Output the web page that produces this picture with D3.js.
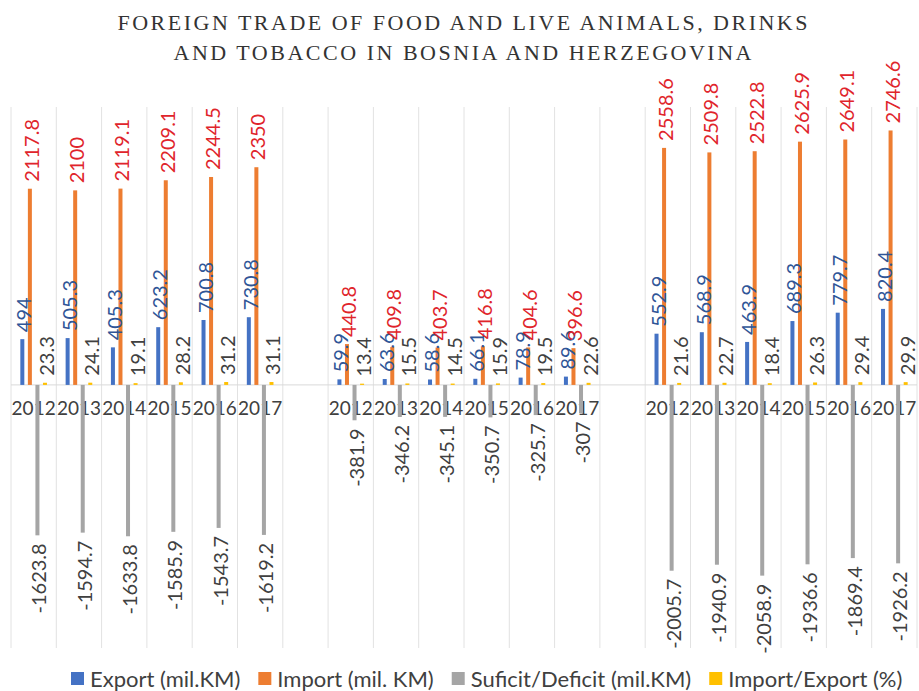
<!DOCTYPE html>
<html>
<head>
<meta charset="utf-8">
<script src="https://cdn.jsdelivr.net/npm/d3@7"></script>
<style>
  body { margin: 0; background: #fff; }
</style>
</head>
<body>
<div id="chart"></div>
<script>
// Data
const groups = ['A', 'B', 'C']
const years = ['2012', '2013', '2014', '2015', '2016', '2017']

const exportVals = [
  494, 505.3, 405.3, 623.2, 700.8, 730.8,
  59.9, 63.6, 58.6, 66.1, 78.9, 89.6,
  552.9, 568.9, 463.9, 689.3, 779.7, 820.4
]
const importVals = [
  2117.8, 2100, 2119.1, 2209.1, 2244.5, 2350,
  440.8, 409.8, 403.7, 416.8, 404.6, 396.6,
  2558.6, 2509.8, 2522.8, 2625.9, 2649.1, 2746.6
]
const balanceVals = [
  -1623.8, -1594.7, -1633.8, -1585.9, -1543.7, -1619.2,
  -381.9, -346.2, -345.1, -350.7, -325.7, -307,
  -2005.7, -1940.9, -2058.9, -1936.6, -1869.4, -1926.2
]
const ratioVals = [
  23.3, 24.1, 19.1, 28.2, 31.2, 31.1,
  13.4, 15.5, 14.5, 15.9, 19.5, 22.6,
  21.6, 22.7, 18.4, 26.3, 29.4, 29.9
]

const seriesNames = [
  'Export (mil.KM)',
  'Import (mil. KM)',
  'Suficit/Deficit (mil.KM)',
  'Import/Export (%)'
]
const seriesColors = ['#4472c4', '#ed7d31', '#a5a5a5', '#ffc000']
const labelColors = ['#2f5597', '#e0242b', '#404040', '#404040']

const titleLines = [
  'FOREIGN TRADE OF FOOD AND LIVE ANIMALS, DRINKS',
  'AND TOBACCO IN BOSNIA AND HERZEGOVINA'
]

function draw() {
  // Dimensions
  const dimensions = {
    width: 919,
    height: 691,
    plotLeft: 11,
    plotRight: 917,
    plotTop: 107,
    plotBottom: 648,
  }

  // Categories: 3 groups of 6 years with an empty slot between groups
  const categories = []
  const rows = []
  groups.forEach((g, gi) => {
    if (gi > 0) categories.push({ key: 'gap' + gi, label: '' })
    years.forEach((yr, yi) => {
      const idx = gi * years.length + yi
      const key = g + yr
      categories.push({ key, label: yr })
      rows.push({
        key,
        values: [exportVals[idx], importVals[idx], balanceVals[idx], ratioVals[idx]]
      })
    })
  })

  const svg = d3.select('#chart')
    .append('svg')
    .attr('width', dimensions.width)
    .attr('height', dimensions.height)
    .style('font-family', 'Lato, sans-serif')

  // Scales
  const xScale = d3.scaleBand()
    .domain(categories.map(c => c.key))
    .range([dimensions.plotLeft, dimensions.plotRight])

  const subScale = d3.scaleBand()
    .domain(d3.range(seriesNames.length))
    .range([0, xScale.bandwidth()])
    .paddingInner(0.47)
    .paddingOuter(1.235)

  const yScale = d3.scaleLinear()
    .domain([-2840, 3000])
    .range([dimensions.plotBottom, dimensions.plotTop])

  // Gridlines
  const edges = categories.map(c => xScale(c.key)).concat([dimensions.plotRight])
  svg.append('g')
    .selectAll('line')
    .data(edges)
    .join('line')
    .attr('x1', d => d)
    .attr('x2', d => d)
    .attr('y1', dimensions.plotTop)
    .attr('y2', dimensions.plotBottom)
    .attr('stroke', '#e2e2e2')
    .attr('stroke-width', 1)

  svg.append('line')
    .attr('x1', dimensions.plotLeft)
    .attr('x2', dimensions.plotRight)
    .attr('y1', yScale(0))
    .attr('y2', yScale(0))
    .attr('stroke', '#d9d9d9')

  // Year labels
  const xAxis = d3.axisBottom(xScale)
    .tickSize(0)
    .tickFormat(k => categories.find(c => c.key === k).label)

  const axisG = svg.append('g')
    .attr('transform', `translate(0, ${yScale(0)})`)
    .call(xAxis)
  axisG.select('.domain').remove()
  axisG.selectAll('text')
    .attr('y', 30)
    .attr('dy', 0)
    .style('font-family', 'Lato, sans-serif')
    .style('font-size', '19px')
    .attr('fill', '#404040')

  // Bars
  const cats = svg.append('g')
    .selectAll('g')
    .data(rows)
    .join('g')
    .attr('transform', d => `translate(${xScale(d.key)}, 0)`)

  cats.selectAll('rect')
    .data(d => d.values.map((v, i) => ({ v, i })))
    .join('rect')
    .attr('x', d => subScale(d.i))
    .attr('width', subScale.bandwidth())
    .attr('y', d => yScale(Math.max(0, d.v)))
    .attr('height', d => Math.abs(yScale(d.v) - yScale(0)))
    .attr('fill', d => seriesColors[d.i])

  // Value labels
  cats.selectAll('text')
    .data(d => d.values.map((v, i) => ({ v, i })))
    .join('text')
    .attr('transform', d => {
      const cx = subScale(d.i) + subScale.bandwidth() / 2 + 2
      const cy = d.v >= 0 ? yScale(d.v) - 7 : yScale(d.v) + 8
      return `translate(${cx}, ${cy}) rotate(-90)`
    })
    .attr('dy', '0.35em')
    .attr('text-anchor', d => d.v >= 0 ? 'start' : 'end')
    .attr('fill', d => labelColors[d.i])
    .style('font-size', '20px')
    .text(d => String(d.v))

  // Title
  const titleWidths = [690, 578]
  svg.append('g')
    .selectAll('text')
    .data(titleLines)
    .join('text')
    .attr('x', dimensions.width / 2 + 3)
    .attr('y', (d, i) => 30 + i * 30)
    .attr('text-anchor', 'middle')
    .attr('textLength', (d, i) => titleWidths[i])
    .attr('lengthAdjust', 'spacing')
    .style('font-family', '"Liberation Serif", "Times New Roman", serif')
    .style('font-size', '22px')
    .attr('fill', '#333')
    .text(d => d)

  // Legend
  const legend = svg.append('g')
    .attr('transform', 'translate(71, 687)')
  let lx = 0
  seriesNames.forEach((name, i) => {
    legend.append('rect')
      .attr('x', lx)
      .attr('y', -15)
      .attr('width', 13)
      .attr('height', 13)
      .attr('fill', seriesColors[i])
    const t = legend.append('text')
      .attr('x', lx + 19)
      .attr('y', 0)
      .attr('fill', '#404040')
      .style('font-size', '22px')
      .text(name)
    lx += 19 + t.node().getComputedTextLength() + 18
  })
}

draw()
</script>
</body>
</html>
